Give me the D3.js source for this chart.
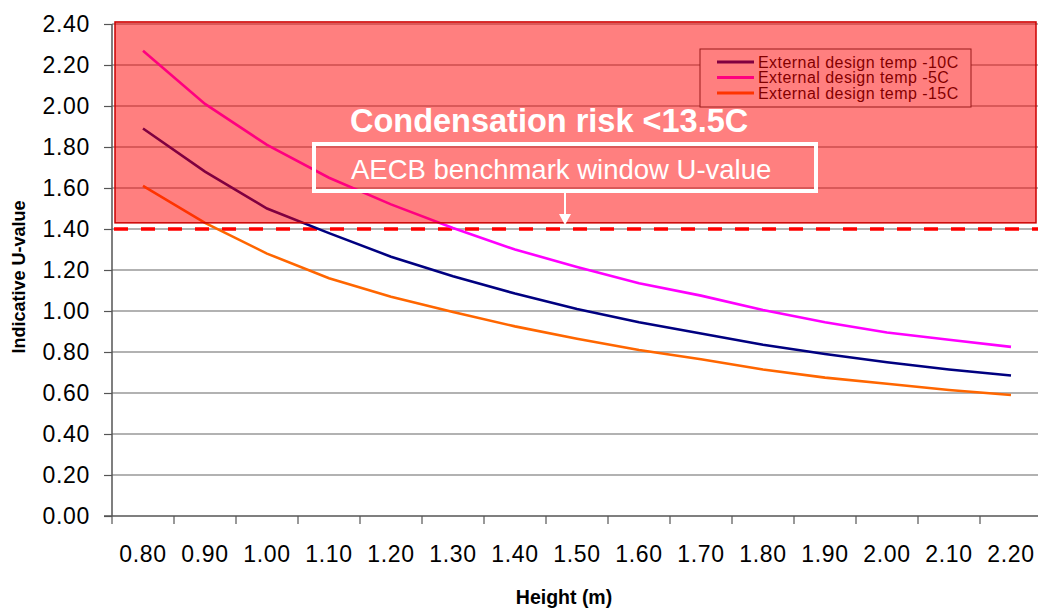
<!DOCTYPE html>
<html>
<head>
<meta charset="utf-8">
<script src="https://cdn.jsdelivr.net/npm/d3@7"></script>
<style>
  body { margin: 0; background: #fff; }
  svg { display: block; font-family: "Liberation Sans", Arial, sans-serif; }
</style>
</head>
<body>
<svg width="1038" height="610"></svg>
<script>
var heights = ['0.80', '0.90', '1.00', '1.10', '1.20', '1.30', '1.40', '1.50',
               '1.60', '1.70', '1.80', '1.90', '2.00', '2.10', '2.20'];
var temp10 = [1.89, 1.68, 1.50, 1.38, 1.265, 1.17, 1.085, 1.01, 0.945, 0.89, 0.835, 0.79, 0.75, 0.715, 0.685];
var temp5  = [2.27, 2.01, 1.81, 1.65, 1.52, 1.405, 1.30, 1.215, 1.135, 1.075, 1.005, 0.945, 0.895, 0.86, 0.825];
var temp15 = [1.61, 1.43, 1.28, 1.16, 1.07, 0.995, 0.925, 0.865, 0.81, 0.765, 0.715, 0.675, 0.645, 0.615, 0.59];
var yTicks = [0, 0.2, 0.4, 0.6, 0.8, 1.0, 1.2, 1.4, 1.6, 1.8, 2.0, 2.2, 2.4];
var benchmark = 1.40;
var riskTop = 2.41, riskBottom = 1.43;

var series = [
    { name: 'External design temp -10C', color: '#000080', values: temp10 },
    { name: 'External design temp -5C',  color: '#ff00ff', values: temp5 },
    { name: 'External design temp -15C', color: '#ff6600', values: temp15 }
];

var svg = d3.select('svg');

var x = d3.scaleBand().domain(heights).range([112, 1042]);
var y = d3.scaleLinear().domain([0, 2.4]).range([516, 24]);

// gridlines
svg.append('g').selectAll('line')
    .data(yTicks.filter(function (d) { return d > 0; }))
    .enter().append('line')
    .attr('x1', 112).attr('x2', 1042)
    .attr('y1', function (d) { return y(d); })
    .attr('y2', function (d) { return y(d); })
    .attr('stroke', '#999').attr('stroke-width', 1.5);

// benchmark dashed line
svg.append('line')
    .attr('x1', 114).attr('x2', 1042)
    .attr('y1', y(benchmark)).attr('y2', y(benchmark))
    .attr('stroke', '#ff0000').attr('stroke-width', 3.5)
    .attr('stroke-dasharray', '14,13');

// series lines
var line = d3.line()
    .x(function (d, i) { return x(heights[i]) + x.bandwidth() / 2; })
    .y(function (d) { return y(d); });

svg.append('g').selectAll('path')
    .data(series)
    .enter().append('path')
    .attr('d', function (d) { return line(d.values); })
    .attr('fill', 'none')
    .attr('stroke', function (d) { return d.color; })
    .attr('stroke-width', 2.6);

// legend
var legend = svg.append('g').attr('transform', 'translate(700,49)');
legend.append('rect')
    .attr('width', 271).attr('height', 58)
    .attr('fill', '#fff').attr('stroke', '#333').attr('stroke-width', 1);
var item = legend.selectAll('.item')
    .data(series)
    .enter().append('g')
    .attr('transform', function (d, i) { return 'translate(0,' + (13 + i * 15.5) + ')'; });
item.append('line')
    .attr('x1', 17).attr('x2', 54)
    .attr('stroke', function (d) { return d.color; })
    .attr('stroke-width', 3);
item.append('text')
    .attr('x', 58).attr('y', 5.5)
    .attr('font-size', 16).attr('letter-spacing', 0.45)
    .attr('fill', '#000')
    .text(function (d) { return d.name; });

// condensation risk zone (translucent red)
svg.append('rect')
    .attr('x', 115).attr('width', 1036 - 115)
    .attr('y', y(riskTop)).attr('height', y(riskBottom) - y(riskTop))
    .attr('fill', 'rgba(255,0,0,0.5)')
    .attr('stroke', '#cc0000').attr('stroke-width', 1.5);

// annotations
svg.append('text')
    .attr('x', 350).attr('y', 132)
    .attr('font-size', 32.5).attr('font-weight', 'bold').attr('fill', '#fff')
    .text('Condensation risk <13.5C');
svg.append('rect')
    .attr('x', 314).attr('y', 144).attr('width', 502).attr('height', 47)
    .attr('fill', 'none').attr('stroke', '#fff').attr('stroke-width', 4);
svg.append('text')
    .attr('x', 351).attr('y', 179)
    .attr('font-size', 27.5).attr('fill', '#fff')
    .text('AECB benchmark window U-value');
svg.append('line')
    .attr('x1', 565).attr('x2', 565).attr('y1', 193).attr('y2', 216)
    .attr('stroke', '#fff').attr('stroke-width', 2);
svg.append('path')
    .attr('d', 'M559,214 L571,214 L565,225 Z')
    .attr('fill', '#fff');

// axes
var yAxis = svg.append('g').attr('transform', 'translate(112,0)')
    .call(d3.axisLeft(y).tickValues(yTicks).tickFormat(d3.format('.2f')).tickSize(8).tickPadding(14));
var xAxis = svg.append('g').attr('transform', 'translate(0,516)')
    .call(d3.axisBottom(x).tickSize(0).tickPadding(30));

// category boundary ticks
svg.append('g').selectAll('line')
    .data(heights)
    .enter().append('line')
    .attr('x1', function (d) { return x(d); })
    .attr('x2', function (d) { return x(d); })
    .attr('y1', 516).attr('y2', 524)
    .attr('stroke', '#555').attr('stroke-width', 1.2);

[yAxis, xAxis].forEach(function (a) {
    a.select('.domain').attr('stroke', '#555').attr('stroke-width', 1.5);
    a.selectAll('.tick line').attr('stroke', '#555').attr('stroke-width', 1.2);
    a.selectAll('.tick text')
        .attr('font-family', '"Liberation Sans", Arial, sans-serif')
        .attr('font-size', 23).attr('letter-spacing', 0.7).attr('fill', '#000');
});
yAxis.select('.domain').attr('d', 'M0,' + y(2.4) + 'V516');
xAxis.select('.domain').attr('d', 'M104,0H1042');

// axis titles
svg.append('text')
    .attr('transform', 'translate(25,277) rotate(-90)')
    .attr('text-anchor', 'middle')
    .attr('font-size', 18).attr('font-weight', 'bold')
    .text('Indicative U-value');
svg.append('text')
    .attr('x', 564).attr('y', 604)
    .attr('text-anchor', 'middle')
    .attr('font-size', 19.5).attr('font-weight', 'bold')
    .text('Height (m)');
</script>
</body>
</html>
